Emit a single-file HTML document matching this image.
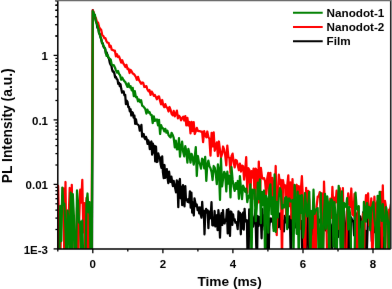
<!DOCTYPE html>
<html><head><meta charset="utf-8"><style>
html,body{margin:0;padding:0;background:#fff;width:392px;height:289px;overflow:hidden}
#w{width:392px;height:289px}
svg{display:block;font-family:"Liberation Sans",sans-serif;font-weight:bold}
</style></head><body><div id="w">
<svg width="392" height="289" viewBox="0 0 392 289">
<defs><filter id="bl" x="0" y="0" width="392" height="289" filterUnits="userSpaceOnUse" color-interpolation-filters="sRGB"><feConvolveMatrix order="3" kernelMatrix="0.0016 0.0371 0.0016 0.0371 0.8450 0.0371 0.0016 0.0371 0.0016" edgeMode="duplicate"/></filter><clipPath id="c"><rect x="57.8" y="0.6" width="332.5" height="248.4"/></clipPath></defs><g filter="url(#bl)"><rect width="392" height="289" fill="#fff"/>
<g clip-path="url(#c)" fill="none" stroke-width="2.25" stroke-linejoin="round">
<path stroke="#000" d="M56.6,265.0 L57.3,265.0 L58.1,265.0 L58.9,265.0 L59.7,265.0 L60.4,265.0 L61.2,265.0 L62.0,265.0 L62.7,265.0 L63.5,265.0 L64.3,265.0 L65.1,265.0 L65.8,265.0 L66.6,265.0 L67.4,265.0 L68.1,265.0 L68.9,265.0 L69.7,265.0 L70.5,265.0 L71.2,265.0 L72.0,265.0 L72.8,265.0 L73.5,265.0 L74.3,265.0 L75.1,265.0 L75.8,265.0 L76.6,265.0 L77.4,265.0 L78.2,265.0 L78.9,265.0 L79.7,265.0 L80.5,265.0 L81.2,265.0 L82.0,265.0 L82.8,265.0 L83.6,265.0 L84.3,265.0 L85.1,265.0 L85.9,265.0 L86.6,265.0 L87.4,265.0 L88.2,265.0 L88.9,265.0 L89.7,265.0 L90.5,265.0 L91.3,265.0 L92.0,265.0 L92.8,10.2 L93.6,12.9 L94.3,14.6 L95.1,17.6 L95.9,20.6 L96.7,23.4 L97.4,27.7 L98.2,26.7 L99.0,33.2 L99.7,33.9 L100.5,37.1 L101.3,39.5 L102.0,43.1 L102.8,43.3 L103.6,46.9 L104.4,47.9 L105.1,48.6 L105.9,53.5 L106.7,52.4 L107.4,55.4 L108.2,57.2 L109.0,58.7 L109.8,62.9 L110.5,64.6 L111.3,65.3 L112.1,69.6 L112.8,71.6 L113.6,71.5 L114.4,73.5 L115.1,77.4 L115.9,76.9 L116.7,79.0 L117.5,79.6 L118.2,83.8 L119.0,82.6 L119.8,86.2 L120.5,84.2 L121.3,89.1 L122.1,92.7 L122.9,91.5 L123.6,91.3 L124.4,95.2 L125.2,94.8 L125.9,104.2 L126.7,100.6 L127.5,101.8 L128.3,107.0 L129.0,106.8 L129.8,111.3 L130.6,109.4 L131.3,115.5 L132.1,112.1 L132.9,113.0 L133.6,117.5 L134.4,115.6 L135.2,123.9 L136.0,119.4 L136.7,123.7 L137.5,124.4 L138.3,124.9 L139.0,126.0 L139.8,130.7 L140.6,129.6 L141.4,124.9 L142.1,136.7 L142.9,134.5 L143.7,134.0 L144.4,137.9 L145.2,139.0 L146.0,136.9 L146.7,138.8 L147.5,143.9 L148.3,140.3 L149.1,142.6 L149.8,149.2 L150.6,142.9 L151.4,141.5 L152.1,154.6 L152.9,143.7 L153.7,152.6 L154.5,145.8 L155.2,161.4 L156.0,146.5 L156.8,162.0 L157.5,161.7 L158.3,153.4 L159.1,157.0 L159.8,157.1 L160.6,163.9 L161.4,167.8 L162.2,156.4 L162.9,172.0 L163.7,178.1 L164.5,165.0 L165.2,177.9 L166.0,171.0 L166.8,169.1 L167.6,178.3 L168.3,183.1 L169.1,171.6 L169.9,179.5 L170.6,181.9 L171.4,176.6 L172.2,182.5 L172.9,186.1 L173.7,180.9 L174.5,185.2 L175.3,188.7 L176.0,192.3 L176.8,180.3 L177.6,185.8 L178.3,207.2 L179.1,181.8 L179.9,179.0 L180.7,198.3 L181.4,186.8 L182.2,205.2 L183.0,185.2 L183.7,197.3 L184.5,206.4 L185.3,186.1 L186.0,200.0 L186.8,199.2 L187.6,201.8 L188.4,199.2 L189.1,202.4 L189.9,191.4 L190.7,207.6 L191.4,192.6 L192.2,212.7 L193.0,202.5 L193.8,215.5 L194.5,198.4 L195.3,202.5 L196.1,206.2 L196.8,204.6 L197.6,210.2 L198.4,207.6 L199.2,213.3 L199.9,207.3 L200.7,214.4 L201.5,217.7 L202.2,201.9 L203.0,215.3 L203.8,210.9 L204.5,234.4 L205.3,212.4 L206.1,208.8 L206.9,212.7 L207.6,210.3 L208.4,228.1 L209.2,211.5 L209.9,218.6 L210.7,215.2 L211.5,202.2 L212.3,225.3 L213.0,225.3 L213.8,225.1 L214.6,211.0 L215.3,226.5 L216.1,216.4 L216.9,215.2 L217.6,230.1 L218.4,210.2 L219.2,218.5 L220.0,237.6 L220.7,218.2 L221.5,213.2 L222.3,225.0 L223.0,210.1 L223.8,222.0 L224.6,223.4 L225.4,219.5 L226.1,220.7 L226.9,210.0 L227.7,233.4 L228.4,209.1 L229.2,226.0 L230.0,235.9 L230.7,211.5 L231.5,212.1 L232.3,224.9 L233.1,214.3 L233.8,220.2 L234.6,219.1 L235.4,222.7 L236.1,222.0 L236.9,223.8 L237.7,229.1 L238.5,211.4 L239.2,219.1 L240.0,212.9 L240.8,234.3 L241.5,214.4 L242.3,228.7 L243.1,212.7 L243.8,229.6 L244.6,208.9 L245.4,221.5 L246.2,221.3 L246.9,220.1 L247.7,265.0 L248.5,265.0 L249.2,209.4 L250.0,225.3 L250.8,222.4 L251.6,228.6 L252.3,216.0 L253.1,226.7 L253.9,220.5 L254.6,218.6 L255.4,209.6 L256.2,244.1 L257.0,265.0 L257.7,216.0 L258.5,226.2 L259.3,217.0 L260.0,224.3 L260.8,216.6 L261.6,238.3 L262.3,209.1 L263.1,225.3 L263.9,215.6 L264.7,230.0 L265.4,224.9 L266.2,265.0 L267.0,216.1 L267.7,227.4 L268.5,265.0 L269.3,227.2 L270.1,218.4 L270.8,221.6 L271.6,218.6 L272.4,220.9 L273.1,222.9 L273.9,228.6 L274.7,214.7 L275.4,224.9 L276.2,215.9 L277.0,222.1 L277.8,216.9 L278.5,227.2 L279.3,218.9 L280.1,213.4 L280.8,229.0 L281.6,218.3 L282.4,228.5 L283.2,220.8 L283.9,231.4 L284.7,215.8 L285.5,217.9 L286.2,222.4 L287.0,221.7 L287.8,221.3 L288.5,227.3 L289.3,216.4 L290.1,226.6 L290.9,265.0 L291.6,214.1 L292.4,224.8 L293.2,231.8 L293.9,215.9 L294.7,217.5 L295.5,227.4 L296.3,217.5 L297.0,218.9 L297.8,231.8 L298.6,212.8 L299.3,223.3 L300.1,225.0 L300.9,227.7 L301.6,221.0 L302.4,265.0 L303.2,225.5 L304.0,220.3 L304.7,229.0 L305.5,265.0 L306.3,265.0 L307.0,231.1 L307.8,211.2 L308.6,227.8 L309.4,265.0 L310.1,239.1 L310.9,265.0 L311.7,226.7 L312.4,234.7 L313.2,210.0 L314.0,222.0 L314.8,218.3 L315.5,227.0 L316.3,218.7 L317.1,228.3 L317.8,222.0 L318.6,221.1 L319.4,219.8 L320.1,222.7 L320.9,223.0 L321.7,221.8 L322.5,265.0 L323.2,216.2 L324.0,225.0 L324.8,226.3 L325.5,230.3 L326.3,215.5 L327.1,219.9 L327.9,222.2 L328.6,232.9 L329.4,211.8 L330.2,222.8 L330.9,225.1 L331.7,265.0 L332.5,225.4 L333.2,227.1 L334.0,219.6 L334.8,214.3 L335.6,265.0 L336.3,225.4 L337.1,215.9 L337.9,237.2 L338.6,214.5 L339.4,223.4 L340.2,214.6 L341.0,245.4 L341.7,221.1 L342.5,219.0 L343.3,225.6 L344.0,210.5 L344.8,223.8 L345.6,265.0 L346.3,265.0 L347.1,217.1 L347.9,265.0 L348.7,227.0 L349.4,217.4 L350.2,265.0 L351.0,217.3 L351.7,219.0 L352.5,221.1 L353.3,221.7 L354.1,235.4 L354.8,211.5 L355.6,265.0 L356.4,223.2 L357.1,213.4 L357.9,235.0 L358.7,220.6 L359.4,234.0 L360.2,216.3 L361.0,220.3 L361.8,227.6 L362.5,228.1 L363.3,212.2 L364.1,223.9 L364.8,265.0 L365.6,230.8 L366.4,265.0 L367.2,241.3 L367.9,218.0 L368.7,225.5 L369.5,222.5 L370.2,218.2 L371.0,222.6 L371.8,241.1 L372.5,205.2 L373.3,232.3 L374.1,232.3 L374.9,215.2 L375.6,229.0 L376.4,220.0 L377.2,219.3 L377.9,232.0 L378.7,220.8 L379.5,220.4 L380.3,265.0 L381.0,265.0 L381.8,227.3 L382.6,265.0 L383.3,236.2 L384.1,265.0 L384.9,220.5 L385.7,221.5 L386.4,223.5 L387.2,224.1 L388.0,220.1 L388.7,238.9 L389.5,265.0 L390.3,235.0 L391.0,223.9 L391.8,218.0"/>
<path stroke="#f00" d="M56.0,182.1 L57.1,265.0 L58.1,185.9 L59.2,237.5 L60.2,265.0 L61.3,213.3 L62.3,200.8 L63.4,188.4 L64.4,265.0 L65.5,182.0 L66.5,265.0 L67.6,211.6 L68.6,221.2 L69.7,188.0 L70.7,246.6 L71.8,184.8 L72.8,265.0 L73.9,265.0 L74.9,265.0 L76.0,265.0 L77.0,207.6 L78.1,265.0 L79.1,222.9 L80.2,189.7 L81.2,202.6 L82.3,179.8 L83.3,232.4 L84.4,203.1 L85.4,265.0 L86.5,197.8 L87.5,265.0 L88.6,205.9 L89.6,265.0 L90.7,265.0 L91.7,211.7 L92.8,10.3 L93.9,13.8 L94.9,16.5 L96.0,18.6 L97.0,22.4 L98.1,22.7 L99.1,27.1 L100.2,28.9 L101.2,29.9 L102.3,35.2 L103.3,35.9 L104.4,38.2 L105.4,38.1 L106.5,41.4 L107.5,42.7 L108.6,42.8 L109.6,47.0 L110.7,45.8 L111.7,49.6 L112.8,50.0 L113.8,50.7 L114.9,50.7 L115.9,56.3 L117.0,54.2 L118.0,57.0 L119.1,56.5 L120.1,59.4 L121.2,62.6 L122.2,60.2 L123.3,63.3 L124.3,64.9 L125.4,67.0 L126.4,64.8 L127.5,69.0 L128.5,68.6 L129.6,73.0 L130.6,69.9 L131.7,71.4 L132.7,73.4 L133.8,74.0 L134.8,75.3 L135.9,77.0 L136.9,79.8 L138.0,76.9 L139.0,80.2 L140.1,81.9 L141.1,83.7 L142.2,82.5 L143.2,82.9 L144.3,87.0 L145.3,86.6 L146.4,86.1 L147.4,89.5 L148.5,91.2 L149.5,90.0 L150.6,94.9 L151.7,91.6 L152.7,93.4 L153.8,95.9 L154.8,94.9 L155.9,97.0 L156.9,99.3 L158.0,96.7 L159.0,96.3 L160.1,101.0 L161.1,104.3 L162.2,100.0 L163.2,105.0 L164.3,107.2 L165.3,104.1 L166.4,107.2 L167.4,108.0 L168.5,111.5 L169.5,107.0 L170.6,109.8 L171.6,113.9 L172.7,115.3 L173.7,110.9 L174.8,116.4 L175.8,113.9 L176.9,110.6 L177.9,118.3 L179.0,115.7 L180.0,116.9 L181.1,120.3 L182.1,118.1 L183.2,116.7 L184.2,120.5 L185.3,116.1 L186.3,125.4 L187.4,117.8 L188.4,125.5 L189.5,122.0 L190.5,133.4 L191.6,121.9 L192.6,131.1 L193.7,122.1 L194.7,134.0 L195.8,131.3 L196.8,127.9 L197.9,130.9 L198.9,131.1 L200.0,131.2 L201.0,131.6 L202.1,131.7 L203.1,142.1 L204.2,131.2 L205.2,135.5 L206.3,137.2 L207.3,131.5 L208.4,137.3 L209.4,138.7 L210.5,155.6 L211.6,132.8 L212.6,146.4 L213.7,132.4 L214.7,150.8 L215.8,146.6 L216.8,142.4 L217.9,156.1 L218.9,141.5 L220.0,150.1 L221.0,157.3 L222.1,153.9 L223.1,146.5 L224.2,149.7 L225.2,155.3 L226.3,165.3 L227.3,145.6 L228.4,157.1 L229.4,157.8 L230.5,173.0 L231.5,156.2 L232.6,153.6 L233.6,161.9 L234.7,167.3 L235.7,159.8 L236.8,160.6 L237.8,165.8 L238.9,170.2 L239.9,163.6 L241.0,171.5 L242.0,165.6 L243.1,166.2 L244.1,179.6 L245.2,170.1 L246.2,157.2 L247.3,192.8 L248.3,168.2 L249.4,170.0 L250.4,191.0 L251.5,171.2 L252.5,177.6 L253.6,168.7 L254.6,199.1 L255.7,168.6 L256.7,170.1 L257.8,202.8 L258.8,161.6 L259.9,202.3 L260.9,167.9 L262.0,177.1 L263.0,178.7 L264.1,178.2 L265.1,181.3 L266.2,194.8 L267.2,178.7 L268.3,172.8 L269.4,202.6 L270.4,172.8 L271.5,205.6 L272.5,177.9 L273.6,186.9 L274.6,200.8 L275.7,166.0 L276.7,235.1 L277.8,196.1 L278.8,174.7 L279.9,183.8 L280.9,179.8 L282.0,265.0 L283.0,180.1 L284.1,187.4 L285.1,185.2 L286.2,215.7 L287.2,185.5 L288.3,175.3 L289.3,206.1 L290.4,182.3 L291.4,218.3 L292.5,179.1 L293.5,201.2 L294.6,198.9 L295.6,186.3 L296.7,184.8 L297.7,201.9 L298.8,186.2 L299.8,229.1 L300.9,189.2 L301.9,176.2 L303.0,201.0 L304.0,239.0 L305.1,265.0 L306.1,187.9 L307.2,211.0 L308.2,190.9 L309.3,200.8 L310.3,265.0 L311.4,222.8 L312.4,265.0 L313.5,265.0 L314.5,211.8 L315.6,265.0 L316.6,206.8 L317.7,196.6 L318.7,196.6 L319.8,192.1 L320.8,212.7 L321.9,193.4 L322.9,265.0 L324.0,181.6 L325.0,210.6 L326.1,197.3 L327.2,265.0 L328.2,265.0 L329.3,265.0 L330.3,198.6 L331.4,217.8 L332.4,186.8 L333.5,213.9 L334.5,197.6 L335.6,202.5 L336.6,190.6 L337.7,201.2 L338.7,228.8 L339.8,188.2 L340.8,232.6 L341.9,206.6 L342.9,188.1 L344.0,265.0 L345.0,265.0 L346.1,265.0 L347.1,210.1 L348.2,193.4 L349.2,202.6 L350.3,207.0 L351.3,188.5 L352.4,214.5 L353.4,215.6 L354.5,194.0 L355.5,232.9 L356.6,265.0 L357.6,213.3 L358.7,207.0 L359.7,265.0 L360.8,265.0 L361.8,265.0 L362.9,213.9 L363.9,265.0 L365.0,210.5 L366.0,195.2 L367.1,202.1 L368.1,193.3 L369.2,225.7 L370.2,215.8 L371.3,198.3 L372.3,265.0 L373.4,222.4 L374.4,196.7 L375.5,225.1 L376.5,204.0 L377.6,200.9 L378.6,215.4 L379.7,208.1 L380.7,191.8 L381.8,248.8 L382.8,185.4 L383.9,235.5 L385.0,200.8 L386.0,207.2 L387.1,217.4 L388.1,265.0 L389.2,209.5 L390.2,209.1 L391.3,201.8 L392.3,265.0"/>
<path stroke="#008000" d="M56.0,205.0 L57.1,265.0 L58.1,265.0 L59.2,265.0 L60.2,206.0 L61.3,241.1 L62.3,187.6 L63.4,204.9 L64.4,203.8 L65.5,230.4 L66.5,265.0 L67.6,210.5 L68.6,221.4 L69.7,265.0 L70.7,192.7 L71.8,265.0 L72.8,194.1 L73.9,216.4 L74.9,265.0 L76.0,265.0 L77.0,190.4 L78.1,203.1 L79.1,222.6 L80.2,221.6 L81.2,265.0 L82.3,220.6 L83.3,265.0 L84.4,265.0 L85.4,265.0 L86.5,203.3 L87.5,193.5 L88.6,212.4 L89.6,202.1 L90.7,265.0 L91.7,265.0 L92.8,11.2 L93.9,14.0 L94.9,14.8 L96.0,21.9 L97.0,24.1 L98.1,28.1 L99.1,32.9 L100.2,35.8 L101.2,39.1 L102.3,43.3 L103.3,45.6 L104.4,47.3 L105.4,50.0 L106.5,55.9 L107.5,54.6 L108.6,57.7 L109.6,58.6 L110.7,59.5 L111.7,64.5 L112.8,65.3 L113.8,65.2 L114.9,67.5 L115.9,70.1 L117.0,72.6 L118.0,71.0 L119.1,74.1 L120.1,75.2 L121.2,79.7 L122.2,77.6 L123.3,79.7 L124.3,81.2 L125.4,82.2 L126.4,84.6 L127.5,86.9 L128.5,83.4 L129.6,87.3 L130.6,86.2 L131.7,90.3 L132.7,87.9 L133.8,96.2 L134.8,91.2 L135.9,97.2 L136.9,97.0 L138.0,101.3 L139.0,99.4 L140.1,102.1 L141.1,100.2 L142.2,105.8 L143.2,106.2 L144.3,107.6 L145.3,109.0 L146.4,113.6 L147.4,109.6 L148.5,112.6 L149.5,112.0 L150.6,114.7 L151.7,115.1 L152.7,123.0 L153.8,116.3 L154.8,120.9 L155.9,119.6 L156.9,119.5 L158.0,125.4 L159.0,119.9 L160.1,134.0 L161.1,125.1 L162.2,128.2 L163.2,128.4 L164.3,131.4 L165.3,128.8 L166.4,132.6 L167.4,130.8 L168.5,135.0 L169.5,136.4 L170.6,137.4 L171.6,132.8 L172.7,134.9 L173.7,137.8 L174.8,147.4 L175.8,140.6 L176.9,149.3 L177.9,149.1 L179.0,138.2 L180.0,156.6 L181.1,147.2 L182.1,141.7 L183.2,152.0 L184.2,156.3 L185.3,146.1 L186.3,151.3 L187.4,162.6 L188.4,148.9 L189.5,154.1 L190.5,162.7 L191.6,153.9 L192.6,157.4 L193.7,164.7 L194.7,157.4 L195.8,147.2 L196.8,176.0 L197.9,156.0 L198.9,162.3 L200.0,164.3 L201.0,168.6 L202.1,158.6 L203.1,159.8 L204.2,168.3 L205.2,156.9 L206.3,180.9 L207.3,164.8 L208.4,160.6 L209.4,166.2 L210.5,168.3 L211.6,172.2 L212.6,180.0 L213.7,166.0 L214.7,167.5 L215.8,173.9 L216.8,184.2 L217.9,164.3 L218.9,169.8 L220.0,199.9 L221.0,158.7 L222.1,186.4 L223.1,178.6 L224.2,171.8 L225.2,174.2 L226.3,191.5 L227.3,171.7 L228.4,183.6 L229.4,175.6 L230.5,197.4 L231.5,167.0 L232.6,179.7 L233.6,186.4 L234.7,190.9 L235.7,183.1 L236.8,188.8 L237.8,181.0 L238.9,198.8 L239.9,176.1 L241.0,189.2 L242.0,199.1 L243.1,185.6 L244.1,188.0 L245.2,191.8 L246.2,188.6 L247.3,202.1 L248.3,195.8 L249.4,197.5 L250.4,184.3 L251.5,265.0 L252.5,189.6 L253.6,192.4 L254.6,189.7 L255.7,221.2 L256.7,208.1 L257.8,182.7 L258.8,199.0 L259.9,179.5 L260.9,223.2 L262.0,191.9 L263.0,204.9 L264.1,190.5 L265.1,265.0 L266.2,195.8 L267.2,199.7 L268.3,232.6 L269.4,188.9 L270.4,184.3 L271.5,214.2 L272.5,197.3 L273.6,231.0 L274.6,174.4 L275.7,231.9 L276.7,201.8 L277.8,217.4 L278.8,197.0 L279.9,188.2 L280.9,191.1 L282.0,208.6 L283.0,205.1 L284.1,207.4 L285.1,198.1 L286.2,197.0 L287.2,229.1 L288.3,198.6 L289.3,198.5 L290.4,201.5 L291.4,201.3 L292.5,200.0 L293.5,253.4 L294.6,184.8 L295.6,201.5 L296.7,233.8 L297.7,191.7 L298.8,265.0 L299.8,195.6 L300.9,212.9 L301.9,195.2 L303.0,237.7 L304.0,227.4 L305.1,193.0 L306.1,206.0 L307.2,216.5 L308.2,204.6 L309.3,191.8 L310.3,265.0 L311.4,211.0 L312.4,228.2 L313.5,189.7 L314.5,214.0 L315.6,209.9 L316.6,209.1 L317.7,208.1 L318.7,265.0 L319.8,265.0 L320.8,193.2 L321.9,246.5 L322.9,265.0 L324.0,212.8 L325.0,193.9 L326.1,228.8 L327.2,196.3 L328.2,204.7 L329.3,265.0 L330.3,201.4 L331.4,199.2 L332.4,201.0 L333.5,246.7 L334.5,202.2 L335.6,218.0 L336.6,265.0 L337.7,209.7 L338.7,185.8 L339.8,200.9 L340.8,263.8 L341.9,191.3 L342.9,251.0 L344.0,202.9 L345.0,204.8 L346.1,207.1 L347.1,198.1 L348.2,229.5 L349.2,207.2 L350.3,216.0 L351.3,265.0 L352.4,265.0 L353.4,265.0 L354.5,265.0 L355.5,192.7 L356.6,207.4 L357.6,209.6 L358.7,206.1 L359.7,265.0 L360.8,265.0 L361.8,221.6 L362.9,265.0 L363.9,201.9 L365.0,208.6 L366.0,221.6 L367.1,203.0 L368.1,217.7 L369.2,207.0 L370.2,230.3 L371.3,207.8 L372.3,206.6 L373.4,201.8 L374.4,218.7 L375.5,227.9 L376.5,265.0 L377.6,195.8 L378.6,255.3 L379.7,191.8 L380.7,210.2 L381.8,220.9 L382.8,204.2 L383.9,220.4 L385.0,265.0 L386.0,207.1 L387.1,213.1 L388.1,222.8 L389.2,265.0 L390.2,225.4 L391.3,198.5 L392.3,201.2"/>
</g>
<g stroke="#000" stroke-width="1.3"><line x1="53.6" y1="248.9" x2="57.8" y2="248.9"/><line x1="55.4" y1="229.5" x2="57.8" y2="229.5"/><line x1="55.4" y1="218.1" x2="57.8" y2="218.1"/><line x1="55.4" y1="210.1" x2="57.8" y2="210.1"/><line x1="55.4" y1="203.8" x2="57.8" y2="203.8"/><line x1="55.4" y1="198.7" x2="57.8" y2="198.7"/><line x1="55.4" y1="194.4" x2="57.8" y2="194.4"/><line x1="55.4" y1="190.7" x2="57.8" y2="190.7"/><line x1="55.4" y1="187.4" x2="57.8" y2="187.4"/><line x1="53.6" y1="184.4" x2="57.8" y2="184.4"/><line x1="55.4" y1="165.0" x2="57.8" y2="165.0"/><line x1="55.4" y1="153.6" x2="57.8" y2="153.6"/><line x1="55.4" y1="145.6" x2="57.8" y2="145.6"/><line x1="55.4" y1="139.3" x2="57.8" y2="139.3"/><line x1="55.4" y1="134.2" x2="57.8" y2="134.2"/><line x1="55.4" y1="129.9" x2="57.8" y2="129.9"/><line x1="55.4" y1="126.2" x2="57.8" y2="126.2"/><line x1="55.4" y1="122.9" x2="57.8" y2="122.9"/><line x1="53.6" y1="119.9" x2="57.8" y2="119.9"/><line x1="55.4" y1="100.5" x2="57.8" y2="100.5"/><line x1="55.4" y1="89.1" x2="57.8" y2="89.1"/><line x1="55.4" y1="81.1" x2="57.8" y2="81.1"/><line x1="55.4" y1="74.8" x2="57.8" y2="74.8"/><line x1="55.4" y1="69.7" x2="57.8" y2="69.7"/><line x1="55.4" y1="65.4" x2="57.8" y2="65.4"/><line x1="55.4" y1="61.7" x2="57.8" y2="61.7"/><line x1="55.4" y1="58.4" x2="57.8" y2="58.4"/><line x1="53.6" y1="55.4" x2="57.8" y2="55.4"/><line x1="55.4" y1="36.0" x2="57.8" y2="36.0"/><line x1="55.4" y1="24.6" x2="57.8" y2="24.6"/><line x1="55.4" y1="16.6" x2="57.8" y2="16.6"/><line x1="55.4" y1="10.3" x2="57.8" y2="10.3"/><line x1="55.4" y1="5.2" x2="57.8" y2="5.2"/><line x1="55.4" y1="0.9" x2="57.8" y2="0.9"/><line x1="55.4" y1="36.0" x2="57.8" y2="36.0"/><line x1="55.4" y1="24.6" x2="57.8" y2="24.6"/><line x1="55.4" y1="16.6" x2="57.8" y2="16.6"/><line x1="55.4" y1="10.3" x2="57.8" y2="10.3"/><line x1="55.4" y1="5.2" x2="57.8" y2="5.2"/><line x1="57.8" y1="249.0" x2="57.8" y2="251.4"/><line x1="92.8" y1="249.0" x2="92.8" y2="253.2"/><line x1="127.8" y1="249.0" x2="127.8" y2="251.4"/><line x1="162.9" y1="249.0" x2="162.9" y2="253.2"/><line x1="197.9" y1="249.0" x2="197.9" y2="251.4"/><line x1="232.9" y1="249.0" x2="232.9" y2="253.2"/><line x1="267.9" y1="249.0" x2="267.9" y2="251.4"/><line x1="303.0" y1="249.0" x2="303.0" y2="253.2"/><line x1="338.0" y1="249.0" x2="338.0" y2="251.4"/><line x1="373.0" y1="249.0" x2="373.0" y2="253.2"/></g>
<path d="M57.8,0.6 L57.8,249.0 L390.3,249.0" fill="none" stroke="#000" stroke-width="1.5"/>
<line x1="390.5" y1="0" x2="390.5" y2="249.5" stroke="#222" stroke-width="1.1"/>
<line x1="55" y1="0.6" x2="391.0" y2="0.6" stroke="#6a6a6a" stroke-width="1.4"/>
<line x1="391.5" y1="0" x2="391.5" y2="249" stroke="#888" stroke-width="1"/>
<g font-size="11.5" fill="#000"><text x="48" y="60.2" text-anchor="end">1</text><text x="48" y="124.7" text-anchor="end">0.1</text><text x="48" y="189.2" text-anchor="end">0.01</text><text x="48" y="253.7" text-anchor="end">1E-3</text><text x="92.8" y="268" text-anchor="middle">0</text><text x="162.9" y="268" text-anchor="middle">2</text><text x="232.9" y="268" text-anchor="middle">4</text><text x="303.0" y="268" text-anchor="middle">6</text><text x="373.0" y="268" text-anchor="middle">8</text></g>
<g stroke-width="2"><line x1="293" y1="12.75" x2="322.7" y2="12.75" stroke="#008000"/>
<line x1="293" y1="27" x2="322.7" y2="27" stroke="#f00"/>
<line x1="293" y1="41.25" x2="322.7" y2="41.25" stroke="#000"/></g>
<g font-size="11.7" fill="#000"><text x="326.6" y="16.5">Nanodot-1</text><text x="326.6" y="30.65">Nanodot-2</text><text x="326.6" y="44.8">Film</text></g>
<text x="229.6" y="285.6" font-size="13.7" text-anchor="middle">Time (ms)</text>
<text transform="translate(12.0,125.8) rotate(-90)" font-size="13.8" text-anchor="middle">PL Intensity (a.u.)</text>
</g></svg></div></body></html>
